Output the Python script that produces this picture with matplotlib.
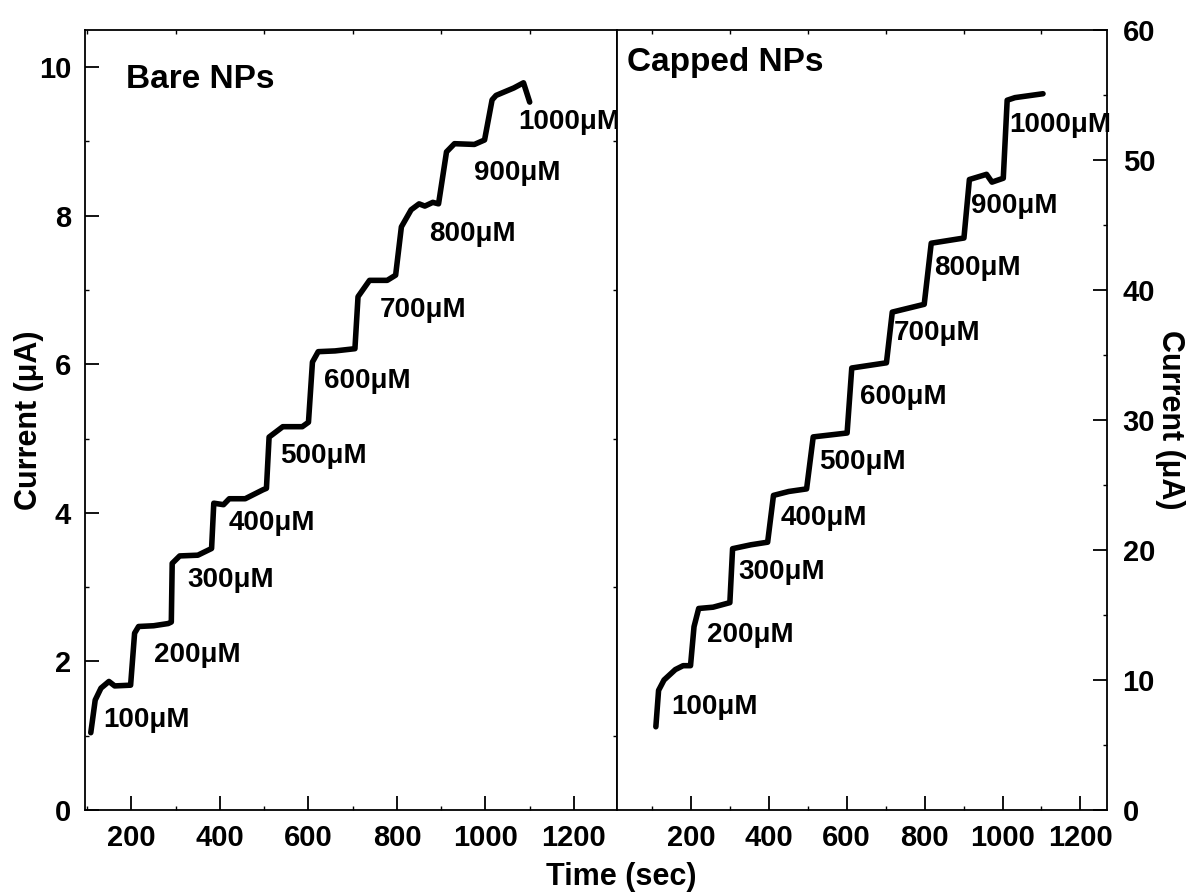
import matplotlib
matplotlib.use("Agg")
import matplotlib.pyplot as plt
from matplotlib.ticker import MultipleLocator

# Bare NPs (left panel)
bare_t = [108, 118, 131, 149, 162, 198, 207, 216, 250, 283, 290, 292, 309, 350, 381,
          386, 408, 421, 457, 497, 505, 511, 542, 586, 600, 609, 622, 660, 705, 712,
          738, 778, 797, 810, 832, 850, 863, 881, 894, 912, 930, 975, 998, 1015, 1024,
          1064, 1086, 1100]
bare_i = [1.04, 1.48, 1.64, 1.73, 1.67, 1.68, 2.38, 2.47, 2.48, 2.51, 2.53, 3.32, 3.42, 3.43, 3.52,
          4.13, 4.11, 4.19, 4.19, 4.31, 4.33, 5.02, 5.16, 5.16, 5.22, 6.03, 6.17, 6.18, 6.21, 6.91,
          7.13, 7.13, 7.20, 7.85, 8.08, 8.16, 8.13, 8.18, 8.16, 8.86, 8.97, 8.96, 9.02, 9.56, 9.62,
          9.72, 9.79, 9.53]

# Capped NPs (right panel)
cap_t = [110, 117, 131, 160, 180, 199, 208, 220, 257, 300, 307, 354, 397, 412, 451,
         497, 514, 601, 613, 702, 717, 799, 817, 901, 915, 959, 973, 1002, 1012, 1032, 1104]
cap_i = [6.4, 9.2, 10.0, 10.8, 11.1, 11.1, 14.1, 15.5, 15.6, 15.95, 20.1, 20.4, 20.6, 24.2, 24.5,
         24.7, 28.7, 29.0, 34.0, 34.4, 38.3, 38.9, 43.6, 44.0, 48.5, 48.9, 48.3, 48.6, 54.6, 54.8, 55.1]

conc = ["100", "200", "300", "400", "500", "600", "700", "800", "900", "1000"]
bare_lab_t = [137, 250, 327, 419, 537, 636, 761, 872, 973, 1075]
bare_lab_i = [1.21, 2.09, 3.10, 3.86, 4.76, 5.77, 6.73, 7.76, 8.57, 9.26]
cap_lab_t = [150, 242, 323, 430, 528, 633, 720, 824, 920, 1017]
cap_lab_i = [7.95, 13.46, 18.33, 22.44, 26.8, 31.8, 36.67, 41.67, 46.5, 52.7]

font = ["Liberation Sans", "DejaVu Sans"]

fig = plt.figure(figsize=(11.91, 8.94), dpi=100)
ax1 = fig.add_axes([0.0714, 0.094, 0.5183 - 0.0714, 0.9664 - 0.094])
ax2 = fig.add_axes([0.5183, 0.094, 0.9297 - 0.5183, 0.9664 - 0.094])

ax1.plot(bare_t, bare_i, color="black", lw=4, solid_joinstyle="round", solid_capstyle="round")
ax2.plot(cap_t, cap_i, color="black", lw=4, solid_joinstyle="round", solid_capstyle="round")

ax1.set_xlim(95, 1298)
ax1.set_ylim(0, 10.5)
ax2.set_xlim(11, 1269)
ax2.set_ylim(0, 60)

for ax in (ax1, ax2):
    ax.xaxis.set_major_locator(MultipleLocator(200))
    ax.xaxis.set_minor_locator(MultipleLocator(100))
    for s in ax.spines.values():
        s.set_linewidth(1.3)
    ax.tick_params(which="major", direction="in", length=10, width=1.3, pad=10)
    ax.tick_params(which="minor", direction="in", length=3, width=1.0)
    ax.tick_params(axis="x", which="minor", top=True)

ax1.yaxis.set_major_locator(MultipleLocator(2))
ax1.yaxis.set_minor_locator(MultipleLocator(1))
ax1.tick_params(axis="y", which="minor", right=True)

ax2.yaxis.set_major_locator(MultipleLocator(10))
ax2.yaxis.set_minor_locator(MultipleLocator(5))
ax2.yaxis.tick_right()
ax2.tick_params(axis="y", which="both", left=False)
ax2.tick_params(axis="y", which="major", pad=11)

for ax in (ax1, ax2):
    for lbl in ax.get_xticklabels() + ax.get_yticklabels():
        lbl.set_fontfamily(font)
        lbl.set_fontweight("bold")
        lbl.set_fontsize(21)

for c, t, i in zip(conc, bare_lab_t, bare_lab_i):
    ax1.text(t, i, c + "\u03bcM", ha="left", va="center", fontsize=20,
             fontweight="bold", family=font)
for c, t, i in zip(conc, cap_lab_t, cap_lab_i):
    ax2.text(t, i, c + "\u03bcM", ha="left", va="center", fontsize=20,
             fontweight="bold", family=font)

ax1.text(0.077, 0.936, "Bare NPs", transform=ax1.transAxes, ha="left", va="center",
         fontsize=24, fontweight="bold", family=font)
ax2.text(0.02, 0.959, "Capped NPs", transform=ax2.transAxes, ha="left", va="center",
         fontsize=24, fontweight="bold", family=font)

fig.text(0.522, 0.019, "Time (sec)", ha="center", va="center", fontsize=22,
         fontweight="bold", family=font)
fig.text(0.024, 0.53, "Current (\u03bcA)", ha="center", va="center", rotation=90,
         fontsize=22, fontweight="bold", family=font)
fig.text(0.982, 0.53, "Current (\u03bcA)", ha="center", va="center", rotation=270,
         fontsize=22, fontweight="bold", family=font)

fig.savefig("out.png", dpi=100)
